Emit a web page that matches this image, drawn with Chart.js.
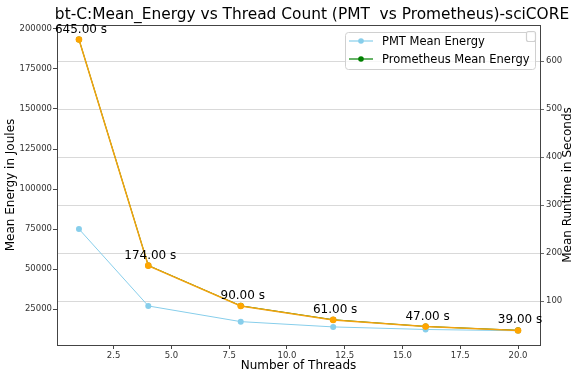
<!DOCTYPE html>
<html>
<head>
<meta charset="utf-8">
<script src="https://cdn.jsdelivr.net/npm/chart.js@4.4.0/dist/chart.umd.min.js"></script>
<style>
  html, body { margin: 0; padding: 0; background: #fff; }
  #wrap { width: 575px; height: 377px; }
</style>
</head>
<body>
<div id="wrap"><canvas id="chart" width="575" height="377"></canvas></div>
<script>
const threads = [1, 4, 8, 12, 16, 20];
const pmtEnergy = [75000, 26900, 17100, 13800, 12200, 11400];
const promEnergy = [193500, 52200, 27000, 18300, 14100, 11700];
const runtime = [645, 174, 90, 61, 47, 39];

const xTicks = [2.5, 5, 7.5, 10, 12.5, 15, 17.5, 20];
const energyTicks = [25000, 50000, 75000, 100000, 125000, 150000, 175000, 200000];
const runtimeTicks = [100, 200, 300, 400, 500, 600];

const FONT = "'DejaVu Sans', sans-serif";
const SPINE = '#444';

function pts(ys) {
    return threads.map((x, i) => ({ x: x, y: ys[i] }));
}

// title, top spine, right axis title, value labels and the two matplotlib style legends
const extras = {
    id: 'extras',
    afterDraw(chart) {
        const ctx = chart.ctx;
        const area = chart.chartArea;
        ctx.save();

        ctx.strokeStyle = SPINE;
        ctx.lineWidth = 1;
        ctx.beginPath();
        ctx.moveTo(area.left, area.top + 0.5);
        ctx.lineTo(area.right, area.top + 0.5);
        ctx.stroke();

        ctx.fillStyle = '#000';
        ctx.font = '15.4px ' + FONT;
        ctx.textAlign = 'center';
        ctx.textBaseline = 'middle';
        ctx.fillText('bt-C:Mean_Energy vs Thread Count (PMT  vs Prometheus)-sciCORE', 312, 15);

        // right axis title, reads bottom to top
        ctx.save();
        ctx.font = '12px ' + FONT;
        ctx.translate(568, (area.top + area.bottom) / 2);
        ctx.rotate(-Math.PI / 2);
        ctx.fillText('Mean Runtime in Seconds', 0, 0);
        ctx.restore();

        // runtime labels
        const meta = chart.getDatasetMeta(0);
        ctx.font = '12px ' + FONT;
        ctx.textBaseline = 'alphabetic';
        meta.data.forEach((p, i) => {
            ctx.fillText(runtime[i].toFixed(2) + ' s', p.x + 2, p.y - 7);
        });

        // energy legend
        const lx = 345, ly = 32, lw = 190, lh = 37;
        ctx.fillStyle = 'rgba(255,255,255,0.8)';
        ctx.strokeStyle = '#d0d0d0';
        ctx.beginPath();
        ctx.roundRect(lx + 0.5, ly + 0.5, lw, lh, 3);
        ctx.fill();
        ctx.stroke();

        const entries = chart.data.datasets.filter(d => d.yAxisID === 'y');
        ctx.font = '11.5px ' + FONT;
        ctx.textAlign = 'left';
        ctx.textBaseline = 'middle';
        entries.forEach((d, i) => {
            const y = ly + 9 + i * 18;
            ctx.strokeStyle = d.borderColor;
            ctx.lineWidth = 1.2;
            ctx.beginPath();
            ctx.moveTo(lx + 4, y);
            ctx.lineTo(lx + 28, y);
            ctx.stroke();
            ctx.fillStyle = d.pointBackgroundColor;
            ctx.beginPath();
            ctx.arc(lx + 16, y, 2.8, 0, Math.PI * 2);
            ctx.fill();
            ctx.fillStyle = '#000';
            ctx.fillText(d.label, lx + 37, y + 1);
        });

        // empty legend of the runtime axis
        ctx.fillStyle = 'rgba(255,255,255,0.8)';
        ctx.strokeStyle = '#d0d0d0';
        ctx.beginPath();
        ctx.roundRect(526.5, 31.5, 9, 10, 2);
        ctx.fill();
        ctx.stroke();

        ctx.restore();
    }
};

new Chart(document.getElementById('chart'), {
    type: 'line',
    data: {
        datasets: [
            {
                label: 'Runtime',
                data: pts(runtime),
                yAxisID: 'y2',
                borderColor: '#f2a30f',
                backgroundColor: '#FFA500',
                pointBackgroundColor: '#FFA500',
                pointBorderWidth: 0,
                pointRadius: 3.3,
                borderWidth: 1.5,
                tension: 0
            },
            {
                label: 'PMT Mean Energy',
                data: pts(pmtEnergy),
                yAxisID: 'y',
                borderColor: '#87CEEB',
                backgroundColor: '#87CEEB',
                pointBackgroundColor: '#87CEEB',
                pointBorderWidth: 0,
                pointRadius: 3,
                borderWidth: 1,
                tension: 0
            },
            {
                label: 'Prometheus Mean Energy',
                data: pts(promEnergy),
                yAxisID: 'y',
                borderColor: '#008000',
                backgroundColor: '#008000',
                pointBackgroundColor: '#008000',
                pointBorderWidth: 0,
                pointRadius: 3,
                borderWidth: 1,
                tension: 0
            }
        ]
    },
    options: {
        responsive: false,
        animation: false,
        devicePixelRatio: 1,
        layout: { padding: { top: 25, left: 0, right: 0, bottom: 0 } },
        plugins: {
            legend: { display: false },
            title: { display: false },
            tooltip: { enabled: false }
        },
        scales: {
            x: {
                type: 'linear',
                min: 0.05,
                max: 20.95,
                afterBuildTicks: s => { s.ticks = xTicks.map(v => ({ value: v })); },
                afterFit: s => { s.height = 32; },
                ticks: {
                    color: '#333',
                    font: { family: FONT, size: 8.5 },
                    padding: 2,
                    maxRotation: 0,
                    callback: v => v.toFixed(1)
                },
                grid: { drawOnChartArea: false, tickLength: 4, tickColor: SPINE },
                border: { color: SPINE, width: 1 },
                title: {
                    display: true,
                    text: 'Number of Threads',
                    color: '#000',
                    font: { family: FONT, size: 12 },
                    padding: { top: 0, bottom: 4 }
                }
            },
            y: {
                position: 'left',
                min: 2500,
                max: 202500,
                afterBuildTicks: s => { s.ticks = energyTicks.map(v => ({ value: v })); },
                afterFit: s => { s.width = 57; },
                ticks: {
                    color: '#333',
                    font: { family: FONT, size: 8.5 },
                    padding: 1,
                    callback: v => String(v)
                },
                grid: { drawOnChartArea: false, tickLength: 4, tickColor: SPINE },
                border: { color: SPINE, width: 1 },
                title: {
                    display: true,
                    text: 'Mean Energy in Joules',
                    color: '#000',
                    font: { family: FONT, size: 12 },
                    padding: { top: 4, bottom: 0 }
                }
            },
            y2: {
                position: 'right',
                min: 8.7,
                max: 675.3,
                afterBuildTicks: s => { s.ticks = runtimeTicks.map(v => ({ value: v })); },
                afterFit: s => { s.width = 35; },
                ticks: {
                    color: '#333',
                    font: { family: FONT, size: 8.5 },
                    padding: 2,
                    callback: v => String(v)
                },
                grid: { color: '#cfcfcf', lineWidth: 0.8, tickLength: 4, tickColor: SPINE },
                border: { color: SPINE, width: 1 }
            }
        }
    },
    plugins: [extras]
});
</script>
</body>
</html>
